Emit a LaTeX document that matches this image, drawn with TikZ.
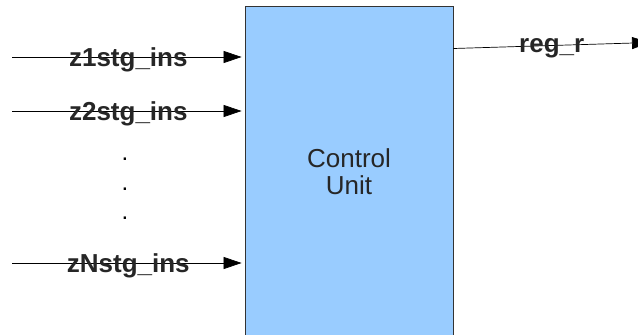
\documentclass[tikz,border=0pt]{standalone}
\usepackage{fontspec}
\setmainfont{Liberation Sans}
\usetikzlibrary{arrows.meta,calc}

\begin{document}
\begin{tikzpicture}[x=1pt, y=-1pt, >={Triangle[length=18pt,width=12pt]}]
      \tikzset{
	  unitbox/.style={rectangle, draw=black!80, line width=0.8pt, inner sep=0em, minimum width=208pt, minimum height=330pt},
	  sigline/.style={->, black, line width=0.7pt},
	  siglabel/.style={font=\fontsize{26}{28}\selectfont\bfseries, text=black!85, inner sep=0pt, yshift=-3pt},
	  dotmark/.style={font=\fontsize{24}{27}\selectfont, inner sep=0pt, anchor=base},
      }
      \useasboundingbox (0, 0) rectangle (638, 335);

      \node (cu) at (349, 171) [unitbox, fill={rgb,255:red,153;green,204;blue,255}] {};
      \node (cut) at (349, 172) [align=center, font=\fontsize{26}{27}\selectfont, text=black!85] {Control\\Unit};

      \coordinate (z1) at (12, 57);
      \coordinate (z2) at (12, 111);
      \coordinate (zN) at (12, 263);
      \draw [sigline, shorten >=3pt] (z1) -- (z1 -| cu.west) node (l1) [midway, siglabel] {z1stg\_ins};
      \draw [sigline, shorten >=3pt] (z2) -- (z2 -| cu.west) node (l2) [midway, siglabel] {z2stg\_ins};
      \draw [sigline, shorten >=3pt] (zN) -- (zN -| cu.west) node (lN) [midway, siglabel] {zNstg\_ins};

      \foreach \y [count=\i] in {160, 190, 219}
	\node (d\i) at (125, \y) [dotmark] {.};

      \coordinate (rr) at (650, 42.5);
      \draw [sigline] (cu.east |- 0, 48.5) -- (rr) node (lr) [midway, siglabel] {reg\_r};
    \end{tikzpicture}
\end{document}
